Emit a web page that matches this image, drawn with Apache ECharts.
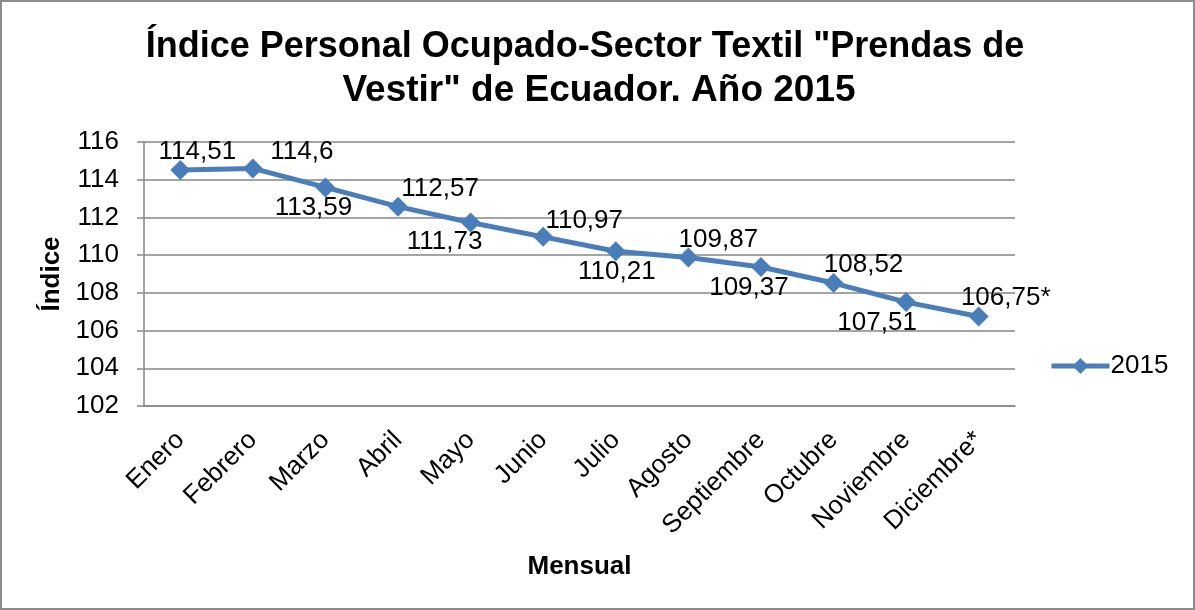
<!DOCTYPE html>
<html>
<head>
<meta charset="utf-8">
<script src="https://cdn.jsdelivr.net/npm/echarts@6/dist/echarts.min.js"></script>
<style>
  html, body { margin: 0; padding: 0; background: #fff; }
  #chart { width: 1191px; height: 606px; border: 2px solid #8c8c8c; }
</style>
</head>
<body>
<div id="chart"></div>
<script>
// datos
const meses = ['Enero', 'Febrero', 'Marzo', 'Abril', 'Mayo', 'Junio', 'Julio', 'Agosto', 'Septiembre', 'Octubre', 'Noviembre', 'Diciembre*'];
const indice2015 = [114.51, 114.6, 113.59, 112.57, 111.73, 110.97, 110.21, 109.87, 109.37, 108.52, 107.51, 106.75];
const yTicks = [102, 104, 106, 108, 110, 112, 114, 116];

// desplazamiento de cada etiqueta respecto del punto (px)
const labelOffsets = [[17, -18], [49, -17], [-12, 20], [42, -18], [-26, 19], [41, -16], [1, 21], [30, -18], [-12, 21], [30, -18], [-29, 21], [27, -19]];

const chart = echarts.init(document.getElementById('chart'));
const azul = '#4a7ebb';
const fuente = 'Liberation Sans, Arial';
const tituloEstilo = { fontFamily: fuente, fontSize: 36, fontWeight: 'bold', color: '#000', lineHeight: 43 };

chart.setOption({
  animation: false,
  title: [{
    text: 'Índice Personal Ocupado-Sector Textil "Prendas de',
    left: 578,
    textAlign: 'center',
    top: 19,
    textStyle: tituloEstilo
  }, {
    text: 'Vestir" de Ecuador. Año 2015',
    left: 592,
    textAlign: 'center',
    top: 62,
    textStyle: Object.assign({}, tituloEstilo, { fontSize: 37 })
  }],
  legend: {
    data: ['2015'],
    left: 1042,
    top: 346,
    itemWidth: 58,
    itemHeight: 20,
    itemGap: 4,
    lineStyle: { width: 5 },
    textStyle: { fontFamily: fuente, fontSize: 26, color: '#000', padding: [0, 0, 0, -4] }
  },
  grid: { left: 142, right: 178, top: 140, bottom: 202 },
  xAxis: {
    type: 'category',
    data: meses,
    boundaryGap: true,
    name: 'Mensual',
    nameLocation: 'middle',
    nameGap: 148,
    nameTextStyle: { fontFamily: fuente, fontSize: 26, fontWeight: 'bold', color: '#000' },
    axisLine: { lineStyle: { color: '#868686', width: 1.5 } },
    axisTick: { show: false },
    axisLabel: { rotate: 45, fontFamily: fuente, fontSize: 26, color: '#000', margin: 30, interval: 0 }
  },
  yAxis: {
    type: 'value',
    min: yTicks[0],
    max: yTicks[yTicks.length - 1],
    interval: 2,
    name: 'Índice',
    nameLocation: 'middle',
    nameGap: 78,
    nameTextStyle: { fontFamily: fuente, fontSize: 26, fontWeight: 'bold', color: '#000' },
    axisLine: { show: true, lineStyle: { color: '#868686', width: 1.5 } },
    axisTick: { show: true, inside: false, length: 7, lineStyle: { color: '#868686', width: 1.5 } },
    axisLabel: { fontFamily: fuente, fontSize: 26, color: '#000', margin: 25 },
    splitLine: { show: true, lineStyle: { color: '#868686', width: 1.5 } }
  },
  series: [{
    name: '2015',
    type: 'line',
    data: indice2015.map((v, i) => ({
      value: v,
      label: { offset: labelOffsets[i] }
    })),
    symbol: 'diamond',
    symbolSize: 20,
    lineStyle: { color: azul, width: 5 },
    itemStyle: { color: azul },
    label: {
      show: true,
      position: 'inside',
      align: 'center',
      verticalAlign: 'middle',
      fontFamily: fuente,
      fontSize: 26,
      color: '#000',
      formatter: p => String(p.value).replace('.', ',') + (meses[p.dataIndex].endsWith('*') ? '*' : '')
    }
  }]
});
</script>
</body>
</html>
